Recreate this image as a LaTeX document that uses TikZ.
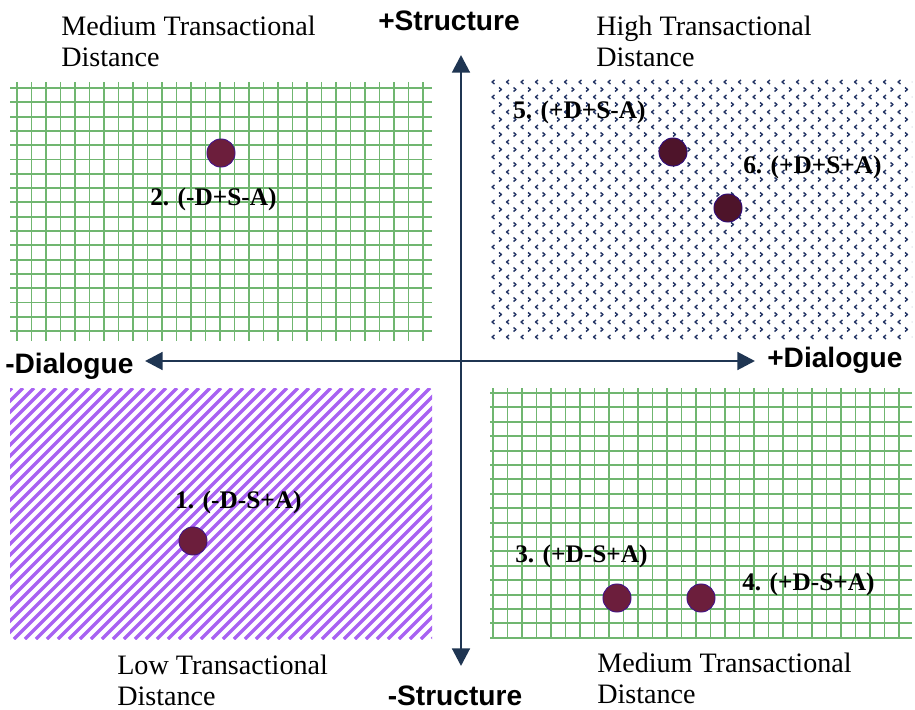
\documentclass[tikz,border=0pt]{standalone}
\usepackage{fontspec}
\setmainfont{Liberation Serif}
\setsansfont{Liberation Sans}
\usetikzlibrary{arrows.meta}
\definecolor{axisblue}{RGB}{31,53,82}
\definecolor{gridgreen}{RGB}{112,182,112}
\definecolor{stripepurple}{RGB}{168,98,242}
\definecolor{chevblue}{RGB}{35,52,100}
\definecolor{dotred}{RGB}{108,30,60}
\definecolor{dotdark}{RGB}{78,20,42}
\begin{document}
\begin{tikzpicture}[x=0.025cm,y=-0.025cm,>={Triangle[length=12.5pt,width=12.5pt]},line join=round,
    gridline/.style={gridgreen,line width=1.3pt},
    stripe/.style={stripepurple,line width=2.3pt},
    chev/.style={chevblue,line width=1pt},
    axis/.style={axisblue,line width=2.1pt},
    dot/.style={circle,draw=#1!60!blue,line width=0.6pt,fill=#1,minimum size=20pt,inner sep=0pt},
    quadtext/.style={anchor=north west,align=left,inner sep=0pt,font=\fontsize{20}{21.5}\selectfont},
    ptlabel/.style={anchor=base west,inner sep=0pt,font=\bfseries\fontsize{18}{20}\selectfont},
    axlabel/.style={inner sep=0pt,font=\sffamily\bfseries\fontsize{20}{22}\selectfont}]
    \useasboundingbox (0,0) rectangle (915,710);
    % top left: green grid
    \begin{scope}
        \clip (10,82) rectangle (432,341);
        \foreach \x in {17,31.5,...,432} \draw[gridline] (\x,82)--(\x,341);
        \foreach \y in {88,102.3,...,341} \draw[gridline] (10,\y)--(432,\y);
    \end{scope}
    % bottom right: green grid
    \begin{scope}
        \clip (490,388) rectangle (912,639);
        \foreach \x in {493,507.5,...,912} \draw[gridline] (\x,388)--(\x,639);
        \foreach \y in {393,407.4,...,639} \draw[gridline] (490,\y)--(912,\y);
    \end{scope}
    % bottom left: purple stripes
    \begin{scope}
        \clip (10,388) rectangle (432,639);
        \foreach \x in {-250,-239,...,440} \draw[stripe] (\x,639)--(\x+251,388);
    \end{scope}
    % top right: chevrons
    \begin{scope}
        \clip (490,78) rectangle (912,343);
        \foreach \y in {82,97,...,343}{
            \foreach \x in {493,507.5,...,915} \draw[chev] (\x+1.5,\y-2)--(\x-1,\y)--(\x+1.5,\y+2);
        }
        \foreach \y in {89.5,104.5,...,343}{
            \foreach \x in {500.5,515,...,915} \draw[chev] (\x-1.5,\y-2)--(\x+1,\y)--(\x-1.5,\y+2);
        }
    \end{scope}
    % axes
    \coordinate (top) at (461,55);
    \coordinate (bot) at (461,666);
    \coordinate (left) at (145,361);
    \coordinate (right) at (755,361);
    \draw[axis,<->] (left)--(right);
    \draw[axis,<->] (bot)--(top);
    \node[axlabel,anchor=base] (splus) at (449,30) {+Structure};
    \node[axlabel,anchor=base] (sminus) at (455,705) {-Structure};
    \node[axlabel,anchor=base west] (dminus) at (5,373) {-Dialogue};
    \node[axlabel,anchor=base west] (dplus) at (767,367) {+Dialogue};
    % quadrant captions
    \node[quadtext] (qtl) at (61,16) {Medium Transactional\\Distance};
    \node[quadtext] (qtr) at (596,16) {High Transactional\\Distance};
    \node[quadtext] (qbl) at (117,655) {Low Transactional\\Distance};
    \node[quadtext] (qbr) at (597,653) {Medium Transactional\\Distance};
    % points
    \node[dot=dotred] (p1) at (193,541) {};
    \node[dot=dotred] (p2) at (221,153) {};
    \node[dot=dotred] (p3) at (617,598) {};
    \node[dot=dotred] (p4) at (701,598) {};
    \node[dot=dotdark] (p5) at (673,152) {};
    \node[dot=dotdark] (p6) at (728,208) {};
    \node[ptlabel] (l1) at (175,508) {1. (-D-S+A)};
    \node[ptlabel] (l2) at (150,205) {2. (-D+S-A)};
    \node[ptlabel] (l3) at (515,562) {3. (+D-S+A)};
    \node[ptlabel] (l4) at (742,590) {4. (+D-S+A)};
    \node[ptlabel] (l5) at (513,118) {5. (+D+S-A)};
    \node[ptlabel] (l6) at (743,173) {6. (+D+S+A)};
\end{tikzpicture}
\end{document}
